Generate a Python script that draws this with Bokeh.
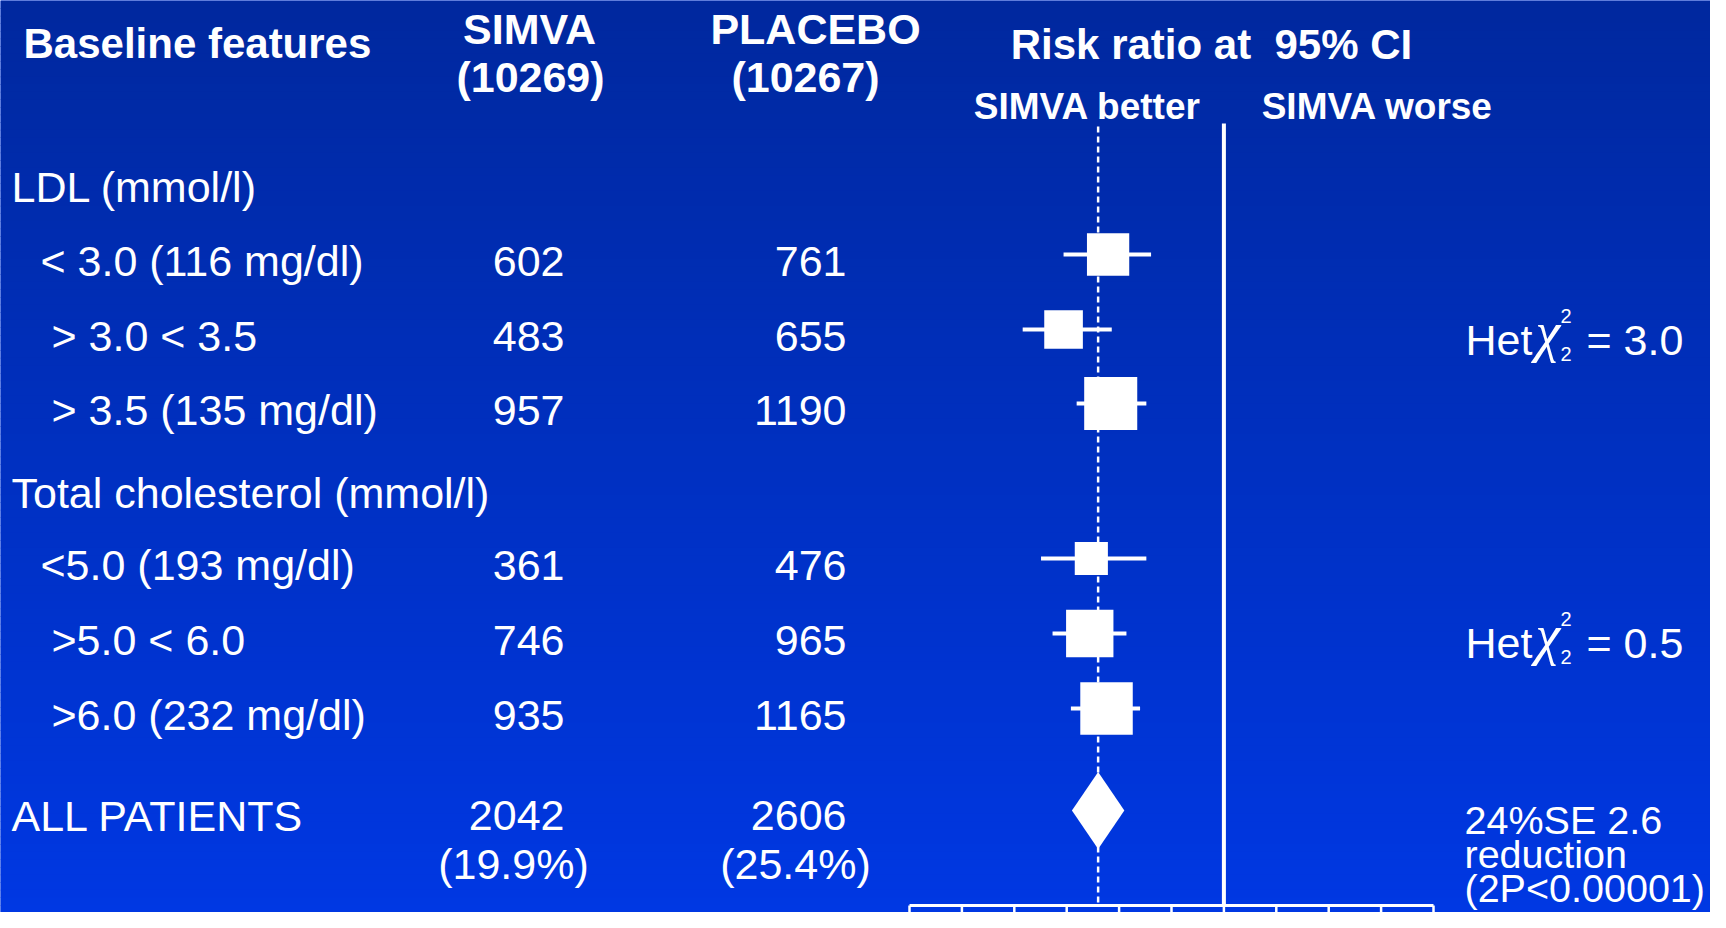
import numpy as np
from bokeh.plotting import figure
from bokeh.models import Range1d
from bokeh.core.properties import value
from bokeh.embed import file_html
from bokeh.resources import INLINE

# ---------------- data ----------------
group_headers = ["LDL (mmol/l)", "Total cholesterol (mmol/l)"]
subgroup_labels = ["< 3.0 (116 mg/dl)", "> 3.0 < 3.5", "> 3.5 (135 mg/dl)",
                   "<5.0 (193 mg/dl)", ">5.0 < 6.0", ">6.0 (232 mg/dl)"]
simva_events = [602, 483, 957, 361, 746, 935]
placebo_events = [761, 655, 1190, 476, 965, 1165]
risk_ratio = [0.779, 0.694, 0.784, 0.747, 0.744, 0.776]
ci_low = [0.694, 0.616, 0.719, 0.651, 0.673, 0.708]
ci_high = [0.861, 0.786, 0.852, 0.852, 0.814, 0.840]

all_label = "ALL PATIENTS"
all_simva = "2042"
all_simva_pct = "(19.9%)"
all_placebo = "2606"
all_placebo_pct = "(25.4%)"
all_rr, all_lo, all_hi = 0.76, 0.71, 0.81
null_rr = 1.0

het_chi2_values = ["3.0", "0.5"]
summary_lines = ["24%SE 2.6", "reduction", "(2P<0.00001)"]
axis_ticks = [0.4, 0.5, 0.6, 0.7, 0.8, 0.9, 1.0, 1.1, 1.2, 1.3, 1.4]

header_texts = ["Baseline features", "SIMVA", "(10269)", "PLACEBO", "(10267)",
                "Risk ratio at\u00a0 95% CI", "SIMVA better", "SIMVA worse"]

# ---------------- layout (picture pixel coordinates) ----------------
W, H = 1710, 912
AX_L_PX, AX_R_PX = 909, 1433
AX_MIN, AX_MAX = axis_ticks[0], axis_ticks[-1]
AXIS_Y = 905


def ratio_at(px):
    return AX_MIN + (px - AX_L_PX) * (AX_MAX - AX_MIN) / (AX_R_PX - AX_L_PX)


row_y = [254, 329, 403, 558, 633, 708]
row_label_x = [40, 51, 51, 40, 51, 51]
TXT_OFF = 6.5
header_y = [186, 492]
ALL_Y = 810
ALL_TXT_Y = 815
SIMVA_X, PLACEBO_X = 564, 846
SQUARE_SCALE = 1.145
FONT = "Liberation Sans"
BODY = 43
WHITE = "white"

p = figure(width=W, height=H, title=None,
           x_range=Range1d(0, W), y_range=Range1d(H, 0),
           output_backend="svg", toolbar_location=None,
           x_axis_type=None, y_axis_type=None, min_border=0,
           outline_line_color=None)
p.extra_x_ranges = {"rr": Range1d(ratio_at(0), ratio_at(W))}
p.background_fill_color = "#0037e0"
p.border_fill_color = "#0037e0"

# gradient background
N = 120
edges = np.linspace(0, H, N + 1)
tops = edges[:-1]
bots = edges[1:] + 0.8
t = np.clip((0.5 * (tops + bots)) / 928.0, 0, 1)
c_top = np.array([0, 40, 158])
c_bot = np.array([0, 56, 228])
cols = ["#%02x%02x%02x" % tuple(int(round(v)) for v in (c_top + (c_bot - c_top) * tt)) for tt in t]
p.quad(left=0, right=W, top=tops, bottom=bots, fill_color=cols, line_color=None)

# reference lines
p.segment(x0=[null_rr], x1=[null_rr], y0=[123], y1=[AXIS_Y], x_range_name="rr",
          line_color=WHITE, line_width=4)
p.segment(x0=[all_rr], x1=[all_rr], y0=[126], y1=[AXIS_Y], x_range_name="rr",
          line_color=WHITE, line_width=2.5, line_dash="6 4")

# axis
p.segment(x0=[AX_MIN], x1=[AX_MAX], y0=[AXIS_Y], y1=[AXIS_Y], x_range_name="rr",
          line_color=WHITE, line_width=3)
p.segment(x0=axis_ticks, x1=axis_ticks, y0=[AXIS_Y] * len(axis_ticks),
          y1=[AXIS_Y + 40] * len(axis_ticks), x_range_name="rr",
          line_color=WHITE, line_width=2.5)

# CIs and squares
p.segment(x0=ci_low, x1=ci_high, y0=row_y, y1=row_y, x_range_name="rr",
          line_color=WHITE, line_width=4)
sizes = [SQUARE_SCALE * np.sqrt(a + b) for a, b in zip(simva_events, placebo_events)]
p.scatter(x=risk_ratio, y=row_y, size=sizes, marker="square", x_range_name="rr",
          fill_color=WHITE, line_color=None)

# overall diamond
DH = 38.5
p.patch(x=[all_lo, all_rr, all_hi, all_rr], y=[ALL_Y, ALL_Y - DH, ALL_Y, ALL_Y + DH],
        x_range_name="rr", fill_color=WHITE, line_color=None)


def txt(xs, ys, texts, size, font=FONT, style="normal", align="left"):
    p.text(x=xs, y=ys, text=texts, text_font=value(font), text_font_size=f"{size}px",
           text_font_style=style, text_color=WHITE, text_align=align,
           text_baseline="middle")


# headers (bold)
txt([23], [43], [header_texts[0]], 42, style="bold")
txt([529, 530], [28, 76], header_texts[1:3], 43, style="bold", align="center")
txt([815, 805], [28, 76], header_texts[3:5], 43, style="bold", align="center")
txt([1211], [44], [header_texts[5]], 42, style="bold", align="center")
txt([1087, 1377], [106, 106], header_texts[6:8], 37, style="bold", align="center")

# group headers and rows
txt([11, 11], header_y, group_headers, BODY)
ty = [y + TXT_OFF for y in row_y]
txt(row_label_x, ty, subgroup_labels, BODY)
txt([SIMVA_X] * 6, ty, [str(v) for v in simva_events], BODY, align="right")
txt([PLACEBO_X] * 6, ty, [str(v) for v in placebo_events], BODY, align="right")

# all patients
txt([11], [ALL_TXT_Y], [all_label], BODY)
txt([SIMVA_X, PLACEBO_X], [ALL_TXT_Y, ALL_TXT_Y], [all_simva, all_placebo], BODY, align="right")
txt([513, 795], [ALL_TXT_Y + 48, ALL_TXT_Y + 48], [all_simva_pct, all_placebo_pct], BODY, align="center")

# heterogeneity
for hy, hv in zip([339, 642], het_chi2_values):
    txt([1465], [hy], ["Het"], BODY)
    txt([1535], [hy - 8], ["\u03c7"], 56, "Liberation Serif", "italic")
    txt([1560], [hy - 24], ["2"], 20)
    txt([1560], [hy + 14], ["2"], 20)
    txt([1586], [hy], ["= " + hv], BODY)

# summary
txt([1464] * 3, [819, 853, 887], summary_lines, 39.5)

open("out.html", "w").write(file_html(p, INLINE))
